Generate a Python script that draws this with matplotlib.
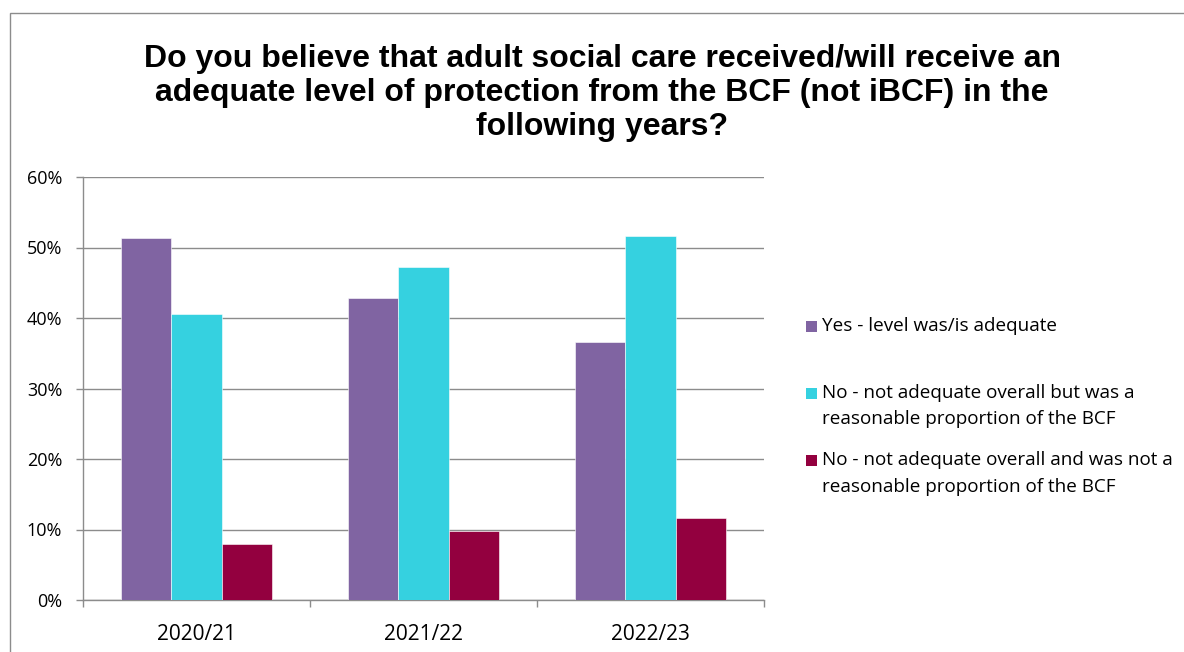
import matplotlib
matplotlib.use("Agg")
import matplotlib.pyplot as plt
from matplotlib.patches import Rectangle
import numpy as np

categories = ["2020/21", "2021/22", "2022/23"]
series_names = [
    "Yes - level was/is adequate",
    "No - not adequate overall but was a\nreasonable proportion of the BCF",
    "No - not adequate overall and was not a\nreasonable proportion of the BCF",
]
yes_adequate = [51.4, 42.9, 36.6]
no_reasonable = [40.6, 47.3, 51.6]
no_not_reasonable = [7.9, 9.8, 11.7]
colors = ["#8064A2", "#35D1E0", "#93003F"]
title = ("Do you believe that adult social care received/will receive an\n"
         "adequate level of protection from the BCF (not iBCF) in the\n"
         "following years?")

W, H = 1184, 652
fig = plt.figure(figsize=(W / 100, H / 100), dpi=100)
fig.patch.set_facecolor("white")


def fx(px):
    return px / W


def fy(py):
    return 1 - py / H


# chart frame
frame = Rectangle((fx(10), -0.05), 1.2, fy(13) + 0.05, transform=fig.transFigure,
                  fill=False, edgecolor="#8C8C8C", linewidth=1.0)
fig.patches.append(frame)

fig.text(fx(602), fy(93), title, ha="center", va="center",
         fontsize=23, fontweight="bold", family="Liberation Sans",
         linespacing=1.19)

ax = fig.add_axes([fx(83), 52 / H, (764 - 83) / W, (600 - 177) / H])
x = np.arange(len(categories))
bw = 0.222
vals = [yes_adequate, no_reasonable, no_not_reasonable]
for i, (v, c, n) in enumerate(zip(vals, colors, series_names)):
    ax.bar(x + (i - 1) * bw, v, width=bw, color=c, label=n, zorder=3,
           edgecolor="white", linewidth=0.4)

ax.set_xlim(-0.5, 2.5)
ax.set_ylim(0, 60)
ax.set_yticks(np.arange(0, 61, 10))
ax.set_yticklabels([f"{t}%" for t in range(0, 61, 10)], fontsize=13, family="Open Sans")
ax.yaxis.grid(True, color="#8C8C8C", linewidth=1.0, zorder=0)
ax.set_xticks(x)
ax.set_xticklabels(categories, fontsize=15, family="Open Sans")
ax.set_xticks([-0.5, 0.5, 1.5, 2.5], minor=True)
ax.tick_params(axis="x", which="major", length=0, pad=17.5)
ax.tick_params(axis="x", which="minor", length=5, color="#8C8C8C", width=1)
ax.tick_params(axis="y", length=5, color="#8C8C8C", width=1, pad=10)
for s in ["top", "right"]:
    ax.spines[s].set_visible(False)
for s in ["left", "bottom"]:
    ax.spines[s].set_color("#8C8C8C")
    ax.spines[s].set_linewidth(1.0)

# legend: colour square beside the first line of each entry
entry_first_line = [326, 393, 460]
line_step = 26.5
for name, c, y0 in zip(series_names, colors, entry_first_line):
    fig.patches.append(Rectangle((fx(806), fy(y0 + 5.5)), 11 / W, 11 / H,
                                 transform=fig.transFigure, facecolor=c,
                                 edgecolor="none"))
    for k, line in enumerate(name.split("\n")):
        fig.text(fx(822), fy(y0 + k * line_step), line, ha="left", va="center",
                 fontsize=13.6, family="Open Sans")

fig.savefig("out.png", dpi=100, facecolor="white")
